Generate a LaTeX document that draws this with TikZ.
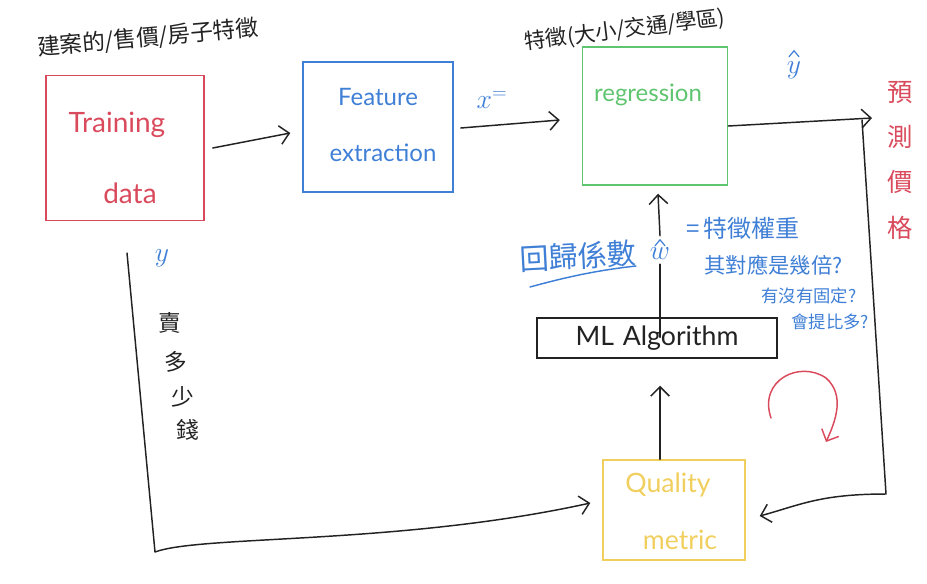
\documentclass[tikz,border=0pt]{standalone}
\usepackage{fontspec}
\setmainfont{Lato}
\newfontfamily\cjk{Noto Sans CJK TC}
\usetikzlibrary{arrows.meta,calc}
\definecolor{ink}{HTML}{222222}
\definecolor{pred}{HTML}{D94A5C}
\definecolor{pblue}{HTML}{3F7FD6}
\definecolor{pgreen}{HTML}{5FC46F}
\definecolor{pyellow}{HTML}{F1CF5E}
\tikzset{
  box/.style={draw, line width=1.1pt, inner sep=0pt},
  conn/.style={draw=ink, line width=1.1pt, line cap=round, line join=round},
  arr/.style={conn, -{Straight Barb[length=7pt,width=14pt,line width=1.1pt]}},
  lbl/.style={inner sep=1pt},
  hatstroke/.style={draw=pblue, line width=0.9pt, line cap=round, line join=round},
}
\begin{document}
\begin{tikzpicture}[x=0.75pt,y=-0.75pt]
\useasboundingbox (0,0) rectangle (927,583);
% boxes
\node[box, draw=pred, minimum width=158*0.75pt, minimum height=145*0.75pt] (td) at (125,148) {};
\node[box, draw=pblue, minimum width=150*0.75pt, minimum height=130*0.75pt] (fe) at (378,127) {};
\node[box, draw=pgreen, minimum width=145*0.75pt, minimum height=138*0.75pt] (reg) at (655,116) {};
\node[box, draw=ink, minimum width=240*0.75pt, minimum height=40*0.75pt] (ml) at (657,338) {};
\node[box, draw=pyellow, minimum width=142*0.75pt, minimum height=100*0.75pt] (qm) at (674,510) {};
% box texts
\node[lbl, text=pred, font=\fontsize{21}{24}\selectfont] (tdt1) at (117,125) {Training};
\node[lbl, text=pred, font=\fontsize{21}{24}\selectfont] (tdt2) at (130,193) {data};
\node[lbl, text=pblue, font=\fontsize{18}{22}\selectfont] (fet1) at (378,97) {Feature};
\node[lbl, text=pblue, font=\fontsize{18}{22}\selectfont] (fet2) at (383,153) {extraction};
\node[lbl, text=pgreen, font=\fontsize{18}{22}\selectfont] (regt) at (648,95) {regression};
\node[lbl, text=ink, font=\fontsize{20}{24}\selectfont] (mlt) at (657,338) {ML\,\,Algorithm};
\node[lbl, text=pyellow, font=\fontsize{20}{24}\selectfont] (qmt1) at (668,485) {Quality};
\node[lbl, text=pyellow, font=\fontsize{20}{24}\selectfont] (qmt2) at (680,540) {metric};
% top labels
\node[lbl, text=ink, font=\cjk\fontsize{17}{20}\selectfont, rotate=5] (toplbl) at (148,38) {建案的/售價/房子特徵};
\node[lbl, text=ink, font=\cjk\fontsize{16}{20}\selectfont, rotate=7] (featlbl) at (625,30) {特徵(大小/交通/學區)};
\node[lbl, text=pblue, font=\fontsize{20}{24}\selectfont] (xlbl) at (492,100) {$x^{=}$};
\node[lbl, text=pblue, font=\fontsize{22}{24}\selectfont] (yhat) at (794,70) {$y$};
\draw[hatstroke] ($(yhat.north)+(-5,-3)$) -- ++(5,-6) -- ++(5,6);
\node[lbl, text=pblue, font=\fontsize{22}{24}\selectfont] (ylbl) at (162,258) {$y$};
% vertical red label
\node[lbl, text=pred, font=\cjk\fontsize{19}{34}\selectfont, align=center] (predlbl) at (900,160) {預\\測\\價\\格};
% vertical black label
\node[lbl, text=ink, font=\cjk\fontsize{17}{20}\selectfont] (s1) at (170,323) {賣};
\node[lbl, text=ink, font=\cjk\fontsize{17}{20}\selectfont] (s2) at (176,362) {多};
\node[lbl, text=ink, font=\cjk\fontsize{17}{20}\selectfont] (s3) at (183,397) {少};
\node[lbl, text=ink, font=\cjk\fontsize{17}{20}\selectfont] (s4) at (188,430) {錢};
% coefficient notes
\node[lbl, text=pblue, font=\cjk\fontsize{22}{26}\selectfont, rotate=3] (coef) at (578,256) {回歸係數};
\node[lbl, fill=white, text=pblue, font=\fontsize{22}{24}\selectfont, inner sep=3pt] (what) at (660,254) {$w$};
\draw[hatstroke] ($(what.north)+(-5,2)$) -- ++(5,-6) -- ++(5,6);
\node[lbl, text=pblue, font=\cjk\fontsize{18}{22}\selectfont, anchor=west] (n1) at (685,228) {=\,特徵權重};
\node[lbl, text=pblue, font=\cjk\fontsize{16}{20}\selectfont, anchor=west] (n2) at (703,265) {其對應是幾倍?};
\node[lbl, text=pblue, font=\cjk\fontsize{13}{16}\selectfont, anchor=west] (n3) at (760,296) {有沒有固定?};
\node[lbl, text=pblue, font=\cjk\fontsize{13}{16}\selectfont, anchor=west] (n4) at (790,322) {會提比多?};
\coordinate (ul1) at (530,287);
\coordinate (ul2) at (636,266);
\draw[draw=pblue, line width=1.1pt, line cap=round] (ul1) .. controls (570,276) and (600,270) .. (ul2);
% connectors
\draw[arr] ([xshift=8*0.75pt]td.east) -- ([xshift=-12*0.75pt, yshift=-6*0.75pt]fe.west);
\draw[arr] ([xshift=7*0.75pt, yshift=-1*0.75pt]fe.east) -- ([xshift=-22*0.75pt, yshift=-4*0.75pt]reg.west);
\coordinate (outR) at (872,118);
\coordinate (turnTop) at (862,120);
\coordinate (turnBot) at (886,494);
\coordinate (turnBL) at (155,552);
\coordinate (startL) at (127,253);
\draw[arr] ([yshift=-10*0.75pt]reg.east) -- (outR);
\draw[arr] (turnTop) -- (turnBot) .. controls (820,494) and (800,505) .. ([xshift=14*0.75pt, yshift=-6*0.75pt]qm.east);
\draw[arr] (startL) -- (turnBL) .. controls (200,535) and (400,545) .. ([xshift=-12*0.75pt, yshift=7*0.75pt]qm.west);
\draw[arr] ([xshift=-14*0.75pt]qm.north) -- ([xshift=3*0.75pt, yshift=-27*0.75pt]ml.south);
\draw[conn] ([xshift=3*0.75pt, yshift=-20*0.75pt]ml.north) -- (what.south);
\draw[arr] ([yshift=8*0.75pt]what.north) -- ([xshift=3*0.75pt, yshift=-8*0.75pt]reg.south);
% red loop arrow
\coordinate (loopA) at (771,418);
\coordinate (loopB) at (826,442);
\draw[draw=pred, line width=1.1pt, line cap=round, -{Straight Barb[length=7pt,width=14pt,line width=1.1pt]}] (loopA) .. controls (758,380) and (800,360) .. (826,378) .. controls (845,395) and (836,420) .. (loopB);
\end{tikzpicture}
\end{document}
